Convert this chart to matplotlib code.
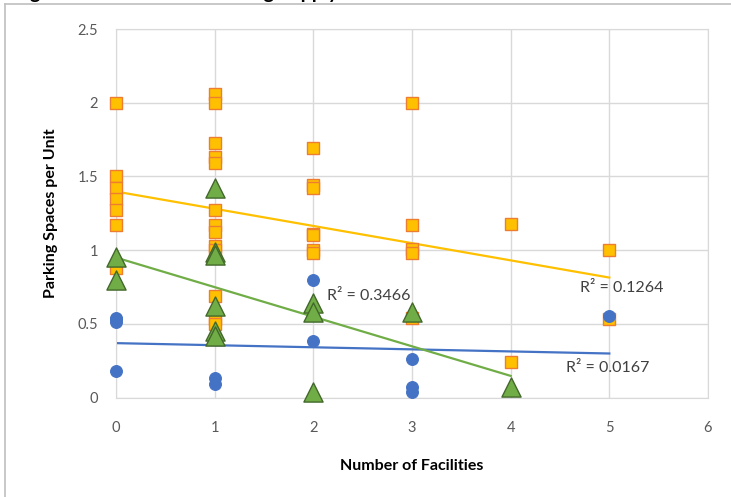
import numpy as np
import matplotlib.pyplot as plt
from matplotlib.lines import Line2D

plt.rcParams['font.family'] = ['Lato', 'DejaVu Sans']

# Facilities count vs parking spaces per unit, three groups of sites
orange_x = [0, 0, 0, 0, 0, 0, 0,
            1, 1, 1, 1, 1, 1, 1, 1, 1, 1, 1, 1, 1,
            2, 2, 2, 2, 2, 2, 2,
            3, 3, 3, 3, 3,
            4, 4,
            5, 5]
orange_y = [2.00, 1.50, 1.42, 1.35, 1.27, 1.17, 0.88,
            2.06, 2.00, 1.73, 1.63, 1.59, 1.27, 1.17, 1.12, 1.03, 1.00, 0.69, 0.53, 0.50,
            1.69, 1.44, 1.42, 1.11, 1.10, 1.00, 0.98,
            2.00, 1.17, 1.01, 0.98, 0.54,
            1.18, 0.24,
            1.00, 0.53]

blue_x = [0, 0, 0, 0, 1, 1, 1, 2, 2, 3, 3, 3, 5]
blue_y = [0.54, 0.53, 0.51, 0.18, 0.42, 0.13, 0.09, 0.80, 0.38, 0.26, 0.07, 0.04, 0.55]

green_x = [0, 0, 1, 1, 1, 1, 1, 1, 2, 2, 2, 3, 4]
green_y = [0.95, 0.80, 1.42, 0.99, 0.97, 0.62, 0.45, 0.42, 0.64, 0.58, 0.04, 0.58, 0.07]

r2_labels = ['R² = 0.1264', 'R² = 0.0167', 'R² = 0.3466']

fig = plt.figure(figsize=(7.31, 4.97), dpi=100)
ax = fig.add_axes([0.1587, 0.2002, 0.8098, 0.7414])


def trend(x, y, color):
    x = np.asarray(x, float)
    y = np.asarray(y, float)
    m, b = np.polyfit(x, y, 1)
    xs = np.array([x.min(), x.max()])
    ax.plot(xs, m * xs + b, color=color, lw=1.6, zorder=2)


trend(orange_x, orange_y, '#FFC000')
trend(blue_x, blue_y, '#4472C4')
trend(green_x, green_y, '#70AD47')

ax.scatter(orange_x, orange_y, marker='s', s=75, c='#FFC000',
           edgecolors='#ED7D31', linewidths=1, zorder=3, clip_on=False)
ax.scatter(blue_x, blue_y, marker='o', s=72, c='#4472C4',
           edgecolors='#4472C4', linewidths=0.8, zorder=4, clip_on=False)
ax.scatter(green_x, green_y, marker='^', s=190, c='#70AD47',
           edgecolors='#43682B', linewidths=1, zorder=5, clip_on=False)

ax.text(4.70, 0.74, r2_labels[0], fontsize=11.5, color='#404040', va='center')
ax.text(4.56, 0.20, r2_labels[1], fontsize=11.5, color='#404040', va='center')
ax.text(2.14, 0.69, r2_labels[2], fontsize=11.5, color='#404040', va='center')

ax.set_xlim(0, 6)
ax.set_ylim(0, 2.5)
ax.set_xticks(range(0, 7))
ax.set_yticks([0, 0.5, 1, 1.5, 2, 2.5])
ax.set_yticklabels(['0', '0.5', '1', '1.5', '2', '2.5'])
ax.tick_params(length=0, labelsize=10.5, labelcolor='#595959')
ax.tick_params(axis='x', pad=17)
ax.tick_params(axis='y', pad=13)
ax.grid(True, color='#D9D9D9', lw=1)
ax.set_axisbelow(True)
for s in ax.spines.values():
    s.set_color('#D9D9D9')

ax.set_xlabel('Number of Facilities', fontsize=11.5, fontweight='bold', labelpad=17)
ax.set_ylabel('Parking Spaces per Unit', fontsize=11.5, fontweight='bold', labelpad=14)

# chart area border and the clipped title above it
fig.add_artist(Line2D([5 / 731, 5 / 731], [0, 1 - 4 / 497], color='#BFBFBF', lw=1.2))
fig.add_artist(Line2D([5 / 731, 1], [1 - 4 / 497, 1 - 4 / 497], color='#BFBFBF', lw=1.2))
fig.text(14 / 731, 1 + 1 / 497, 'Figure 3: Total Onsite Parking Supply', fontsize=14,
         fontweight='bold', va='baseline', ha='left')

fig.savefig('out.png', dpi=100)
